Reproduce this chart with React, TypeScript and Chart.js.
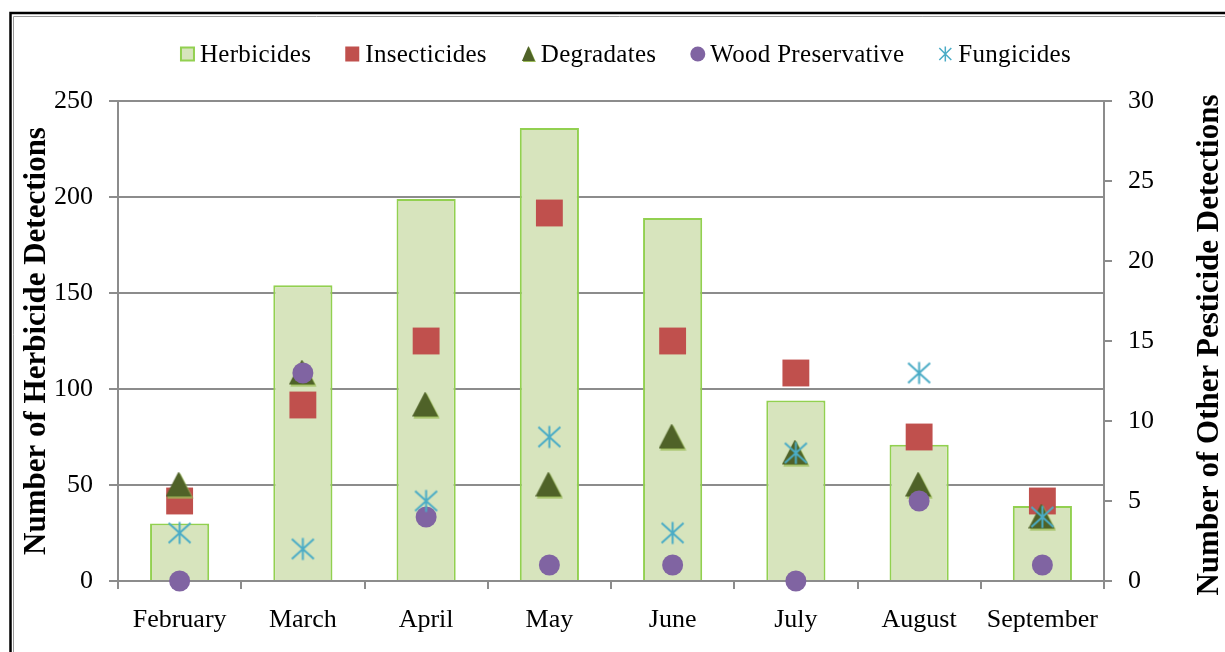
import React, { useEffect, useRef } from "react";
import { Chart, registerables } from "chart.js";

Chart.register(...registerables);

const months = ["February", "March", "April", "May", "June", "July", "August", "September"];
const herbicides = [30, 154, 199, 236, 189, 94, 71, 39];
const insecticides = [5, 11, 15, 23, 15, 13, 9, 5];
const degradates = [6, 13, 11, 6, 9, 8, 6, 4];
const woodPreservative = [0, 13, 4, 1, 1, 0, 5, 1];
const fungicides = [3, 2, 5, 9, 3, 8, 13, 4];
const seriesNames = ["Herbicides", "Insecticides", "Degradates", "Wood Preservative", "Fungicides"];
const leftTitle = "Number of Herbicide Detections";
const rightTitle = "Number of Other Pesticide Detections";

const FONT = '"Liberation Serif", "Times New Roman", serif';
const C = {
  barFill: "#D7E4BD",
  barBorder: "#92D050",
  red: "#C0504D",
  olive: "#4F6228",
  oliveEdge: "#9BBB59",
  purple: "#8064A2",
  cyan: "#4BACC6",
  grid: "#8C8C8C",
};

function makeStar(size: number, lw: number) {
  const c = document.createElement("canvas");
  c.width = size;
  c.height = size;
  const g = c.getContext("2d")!;
  g.strokeStyle = C.cyan;
  g.lineWidth = lw;
  const e = 1.5;
  const m = size / 2;
  g.beginPath();
  g.moveTo(m, e);
  g.lineTo(m, size - e);
  g.moveTo(e, e + 1);
  g.lineTo(size - e, size - e - 1);
  g.moveTo(size - e, e + 1);
  g.lineTo(e, size - e - 1);
  g.stroke();
  return c;
}

function makeTriangle(w: number, h: number) {
  const c = document.createElement("canvas");
  c.width = w + 2;
  c.height = h + 2;
  const g = c.getContext("2d")!;
  const path = (dx: number, dy: number) => {
    g.beginPath();
    g.moveTo(w / 2 + dx, dy);
    g.lineTo(w + dx, h + dy);
    g.lineTo(dx, h + dy);
    g.closePath();
  };
  g.fillStyle = C.oliveEdge;
  path(1.5, 1.5);
  g.fill();
  g.fillStyle = C.olive;
  path(0, 0);
  g.fill();
  return c;
}

function drawLegendIcon(ctx: CanvasRenderingContext2D, i: number, x: number, cy: number) {
  ctx.save();
  if (i === 0) {
    ctx.fillStyle = C.barFill;
    ctx.fillRect(x + 1, cy - 6.5, 13, 13);
    ctx.strokeStyle = C.barBorder;
    ctx.lineWidth = 2;
    ctx.strokeRect(x + 1, cy - 6.5, 13, 13);
  } else if (i === 1) {
    ctx.fillStyle = C.red;
    ctx.fillRect(x, cy - 7.5, 14, 15);
  } else if (i === 2) {
    ctx.fillStyle = C.oliveEdge;
    ctx.beginPath();
    ctx.moveTo(x + 7.5 + 1, cy - 8 + 1);
    ctx.lineTo(x + 14 + 1, cy + 7 + 1);
    ctx.lineTo(x + 1 + 1, cy + 7 + 1);
    ctx.closePath();
    ctx.fill();
    ctx.fillStyle = C.olive;
    ctx.beginPath();
    ctx.moveTo(x + 7.5, cy - 8);
    ctx.lineTo(x + 14, cy + 7);
    ctx.lineTo(x + 1, cy + 7);
    ctx.closePath();
    ctx.fill();
  } else if (i === 3) {
    ctx.fillStyle = C.purple;
    ctx.beginPath();
    ctx.arc(x + 7.5, cy, 7.5, 0, Math.PI * 2);
    ctx.fill();
  } else {
    ctx.strokeStyle = C.cyan;
    ctx.lineWidth = 1.5;
    ctx.beginPath();
    ctx.moveTo(x + 7, cy - 7.5);
    ctx.lineTo(x + 7, cy + 7.5);
    ctx.moveTo(x + 1, cy - 6);
    ctx.lineTo(x + 13, cy + 6);
    ctx.moveTo(x + 13, cy - 6);
    ctx.lineTo(x + 1, cy + 6);
    ctx.stroke();
  }
  ctx.restore();
}

const decorPlugin = {
  id: "decor",
  beforeDraw(chart: any) {
    const ctx: CanvasRenderingContext2D = chart.ctx;
    ctx.save();
    ctx.fillStyle = "#ffffff";
    ctx.fillRect(0, 0, chart.width, chart.height);
    ctx.strokeStyle = "#000";
    ctx.lineWidth = 2.5;
    ctx.beginPath();
    ctx.moveTo(10.5, 700);
    ctx.lineTo(10.5, 13);
    ctx.lineTo(1300, 13);
    ctx.stroke();
    ctx.strokeStyle = "#9a9a9a";
    ctx.lineWidth = 1;
    ctx.beginPath();
    ctx.moveTo(13.5, 700);
    ctx.lineTo(13.5, 16.5);
    ctx.lineTo(1300, 16.5);
    ctx.stroke();
    ctx.restore();
  },
  afterDraw(chart: any) {
    const ctx: CanvasRenderingContext2D = chart.ctx;
    const area = chart.chartArea;
    ctx.save();
    // legend
    ctx.font = `25px ${FONT}`;
    (ctx as any).letterSpacing = "0.3px";
    ctx.fillStyle = "#000";
    ctx.textBaseline = "alphabetic";
    ctx.textAlign = "left";
    const widths = seriesNames.map((n) => ctx.measureText(n).width);
    const iconW = 15;
    const gap = 5;
    const itemGap = 34;
    const total = widths.reduce((a, w) => a + iconW + gap + w, 0) + itemGap * (seriesNames.length - 1);
    let x = 625.5 - total / 2;
    seriesNames.forEach((n, i) => {
      drawLegendIcon(ctx, i, x, 54);
      ctx.fillText(n, x + iconW + gap, 62);
      x += iconW + gap + widths[i] + itemGap;
    });
    // axis titles
    (ctx as any).letterSpacing = "0px";
    ctx.font = `bold 31px ${FONT}`;
    ctx.textAlign = "center";
    const midY = (area.top + area.bottom) / 2;
    ctx.save();
    ctx.translate(45, midY);
    ctx.rotate(-Math.PI / 2);
    ctx.fillText(leftTitle, 0, 0);
    ctx.restore();
    ctx.save();
    ctx.translate(1218, midY + 4);
    ctx.rotate(-Math.PI / 2);
    ctx.fillText(rightTitle, 0, 0);
    ctx.restore();
    ctx.restore();
  },
};

export default function App() {
  const ref = useRef<HTMLCanvasElement>(null);
  useEffect(() => {
    const canvas = ref.current!;
    const star = makeStar(25, 2);
    const tri = makeTriangle(26, 25);
    const tickFont = { family: FONT, size: 26 };
    const chart = new Chart(canvas, {
      type: "bar",
      data: {
        labels: months,
        datasets: [
          {
            type: "bar",
            label: seriesNames[0],
            data: herbicides,
            yAxisID: "y",
            backgroundColor: C.barFill,
            borderColor: C.barBorder,
            borderWidth: 2,
            barPercentage: 0.48,
            categoryPercentage: 1,
            order: 10,
          },
          {
            type: "line",
            label: seriesNames[1],
            data: insecticides,
            yAxisID: "y1",
            showLine: false,
            pointStyle: "rect",
            pointRadius: 19,
            pointHoverRadius: 19,
            pointBackgroundColor: C.red,
            pointBorderWidth: 0,
            borderColor: C.red,
            backgroundColor: C.red,
            clip: false,
            order: 4,
          },
          {
            type: "line",
            label: seriesNames[2],
            data: degradates,
            yAxisID: "y1",
            showLine: false,
            pointStyle: tri,
            pointRadius: 13,
            pointHoverRadius: 13,
            pointBorderWidth: 0,
            clip: false,
            order: 3,
          },
          {
            type: "line",
            label: seriesNames[3],
            data: woodPreservative,
            yAxisID: "y1",
            showLine: false,
            pointStyle: "circle",
            pointRadius: 10.5,
            pointHoverRadius: 10.5,
            pointBackgroundColor: C.purple,
            pointBorderWidth: 0,
            borderColor: C.purple,
            backgroundColor: C.purple,
            clip: false,
            order: 2,
          },
          {
            type: "line",
            label: seriesNames[4],
            data: fungicides,
            yAxisID: "y1",
            showLine: false,
            pointStyle: star,
            pointRadius: 12,
            pointHoverRadius: 12,
            pointBorderWidth: 0,
            clip: false,
            order: 1,
          },
        ] as any,
      },
      options: {
        responsive: false,
        animation: false,
        devicePixelRatio: 1,
        layout: { padding: { top: 101, left: 0, right: 0, bottom: 0 } },
        plugins: {
          legend: { display: false },
          tooltip: { enabled: false },
          title: { display: false },
        },
        scales: {
          x: {
            type: "category",
            offset: true,
            grid: {
              offset: true,
              drawOnChartArea: false,
              drawTicks: true,
              tickLength: 8,
              color: C.grid,
              lineWidth: 2,
            },
            border: { display: true, color: C.grid, width: 2 },
            ticks: {
              font: tickFont,
              color: "#000",
              padding: 16,
              autoSkip: false,
              maxRotation: 0,
              minRotation: 0,
            },
            afterFit: (s: any) => {
              s.height = 71;
            },
          },
          y: {
            position: "left",
            min: 0,
            max: 250,
            grid: {
              color: C.grid,
              lineWidth: 2,
              drawTicks: true,
              tickLength: 9,
            },
            border: { display: true, color: C.grid, width: 2 },
            ticks: {
              stepSize: 50,
              font: tickFont,
              color: "#000",
              padding: 16,
            },
            afterFit: (s: any) => {
              s.width = 118;
            },
          },
          y1: {
            position: "right",
            min: 0,
            max: 30,
            grid: {
              drawOnChartArea: false,
              drawTicks: true,
              tickLength: 8,
              color: C.grid,
              lineWidth: 2,
            },
            border: { display: true, color: C.grid, width: 2 },
            ticks: {
              stepSize: 5,
              font: tickFont,
              color: "#000",
              padding: 16,
            },
            afterFit: (s: any) => {
              s.width = 121;
            },
          },
        },
      } as any,
      plugins: [decorPlugin],
    });
    return () => chart.destroy();
  }, []);
  return (
    <div style={{ position: "fixed", left: 0, top: 0, width: 1225, height: 652, background: "#fff" }}>
      <canvas ref={ref} width={1225} height={652} style={{ display: "block", width: 1225, height: 652 }} />
    </div>
  );
}
